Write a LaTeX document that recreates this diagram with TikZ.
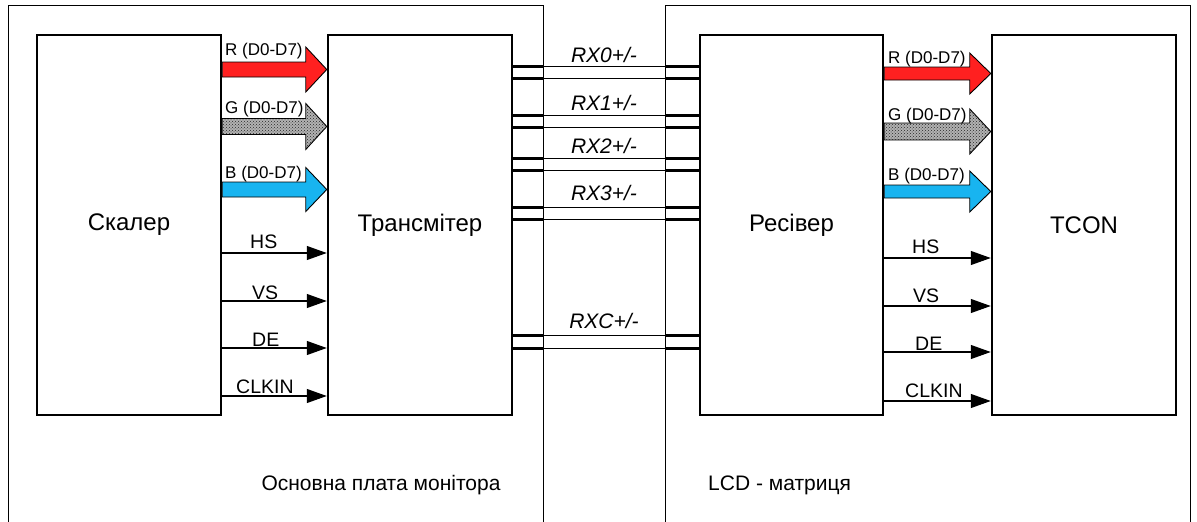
\documentclass[tikz,border=0pt]{standalone}
\usepackage{fontspec}
\setmainfont{Liberation Sans}
\usetikzlibrary{arrows.meta,calc,patterns}
\definecolor{rred}{RGB}{255,32,32}
\definecolor{bblue}{RGB}{24,180,240}
\newcommand\fatarrow[6]{%
  \draw[#6] ($(#1.east|-0,#3)+(0,-#4)$) -- ($(#2.west|-0,#3)+(-21,-#4)$)
    -- ($(#2.west|-0,#3)+(-21,-#5)$) -- (#2.west|-0,#3)
    -- ($(#2.west|-0,#3)+(-21,#5)$) -- ($(#2.west|-0,#3)+(-21,#4)$)
    -- ($(#1.east|-0,#3)+(0,#4)$) -- cycle;}
\newcommand\lvdspair[3]{%
  \draw[thinw] (tr.east|-0,#1) -- (rc.west|-0,#1);
  \draw[thinw] (tr.east|-0,#2) -- (rc.west|-0,#2);
  \draw[thickw] (tr.east|-0,#1) -- (lb|-0,#1);
  \draw[thickw] (tr.east|-0,#2) -- (lb|-0,#2);
  \draw[thickw] (rb|-0,#1) -- (rc.west|-0,#1);
  \draw[thickw] (rb|-0,#2) -- (rc.west|-0,#2);}
\begin{document}
\begin{tikzpicture}[x=1pt,y=-1pt,
  block/.style={draw, line width=2.5pt, minimum height=380pt, inner sep=0pt,
    font=\fontsize{24}{28}\selectfont},
  board/.style={draw, line width=1pt},
  thinw/.style={line width=1pt},
  thickw/.style={line width=3pt},
  sig/.style={line width=1.1pt, -{Triangle[length=20pt,width=14pt]}},
  fat/.style={draw, line width=0.9pt, line join=miter},
  gpat/.style={fat, fill=gray!60, postaction={pattern=crosshatch dots, pattern color=black!85}},
  siglab/.style={inner sep=0pt, font=\fontsize{19.5}{22}\selectfont},
  rgblab/.style={inner sep=0pt, font=\fontsize{17}{20}\selectfont},
  rxlab/.style={inner sep=0pt, font=\fontsize{21}{24}\selectfont\itshape},
  boardlab/.style={inner sep=0pt, font=\fontsize{21}{24}\selectfont}]
\useasboundingbox (0,0) rectangle (1197,522);
% boards
\draw[board] (8,522) -- (8,5) -- (543,5) -- (543,522);
\draw[board] (665,522) -- (665,5) -- (1190,5) -- (1190,522);
\coordinate (lb) at (543,5);
\coordinate (rb) at (665,5);
% blocks
\node[block, minimum width=184pt] (sc) at (129,225) {Скалер};
\node[block, minimum width=184pt] (tr) at (420,225) {Трансмітер};
\node[block, minimum width=183pt] (rc) at (791.5,225) {Ресівер};
\node[block, minimum width=184pt] (tc) at (1084,225) {TCON};
% fat RGB arrows, left
\fatarrow{sc}{tr}{69.5}{7.5}{22.5}{fat, fill=rred}
\fatarrow{sc}{tr}{126.5}{8}{23}{gpat}
\fatarrow{sc}{tr}{189.5}{7.5}{22}{fat, fill=bblue}
\node[rgblab, anchor=base west] (lr) at (225,55) {R (D0-D7)};
\node[rgblab, anchor=base west] (lg) at (225,113) {G (D0-D7)};
\node[rgblab, anchor=base west] (lbb) at (225,178) {B (D0-D7)};
% fat RGB arrows, right
\fatarrow{rc}{tc}{73.5}{6.5}{20.5}{fat, fill=rred}
\fatarrow{rc}{tc}{131.5}{8.5}{22.5}{gpat}
\fatarrow{rc}{tc}{191.5}{6.5}{20.5}{fat, fill=bblue}
\node[rgblab, anchor=base west] (rr) at (888,63) {R (D0-D7)};
\node[rgblab, anchor=base west] (rg) at (888,120) {G (D0-D7)};
\node[rgblab, anchor=base west] (rbb) at (888,180) {B (D0-D7)};
% sync signals, left
\draw[sig] (sc.east|-0,253) -- (tr.west|-0,253);
\draw[sig] (sc.east|-0,301) -- (tr.west|-0,301);
\draw[sig] (sc.east|-0,348) -- (tr.west|-0,348);
\draw[sig] (sc.east|-0,396) -- (tr.west|-0,396);
\node[siglab, anchor=base west] (lhs) at (250,248) {HS};
\node[siglab, anchor=base west] (lvs) at (252,299) {VS};
\node[siglab, anchor=base west] (lde) at (252,346) {DE};
\node[siglab, anchor=base west] (lck) at (236,393) {CLKIN};
% sync signals, right
\draw[sig] (rc.east|-0,258) -- (tc.west|-0,258);
\draw[sig] (rc.east|-0,306) -- (tc.west|-0,306);
\draw[sig] (rc.east|-0,352) -- (tc.west|-0,352);
\draw[sig] (rc.east|-0,401) -- (tc.west|-0,401);
\node[siglab, anchor=base west] (rhs) at (912,253) {HS};
\node[siglab, anchor=base west] (rvs) at (913,302) {VS};
\node[siglab, anchor=base west] (rde) at (915,350) {DE};
\node[siglab, anchor=base west] (rck) at (905,397) {CLKIN};
% LVDS pairs
\lvdspair{66}{78}{}
\lvdspair{115}{127}{}
\lvdspair{158}{170}{}
\lvdspair{207}{219}{}
\lvdspair{335}{348}{}
\node[rxlab, anchor=base] (rx0) at (604,62) {RX0+/-};
\node[rxlab, anchor=base] (rx1) at (604,110) {RX1+/-};
\node[rxlab, anchor=base] (rx2) at (604,153) {RX2+/-};
\node[rxlab, anchor=base] (rx3) at (604,200) {RX3+/-};
\node[rxlab, anchor=base] (rxc) at (604,328) {RXC+/-};
% board captions
\node[boardlab, anchor=base] (mb) at (381,490) {Основна плата монітора};
\node[boardlab, anchor=base west] (lcd) at (708,490) {LCD - матриця};
\end{tikzpicture}
\end{document}
